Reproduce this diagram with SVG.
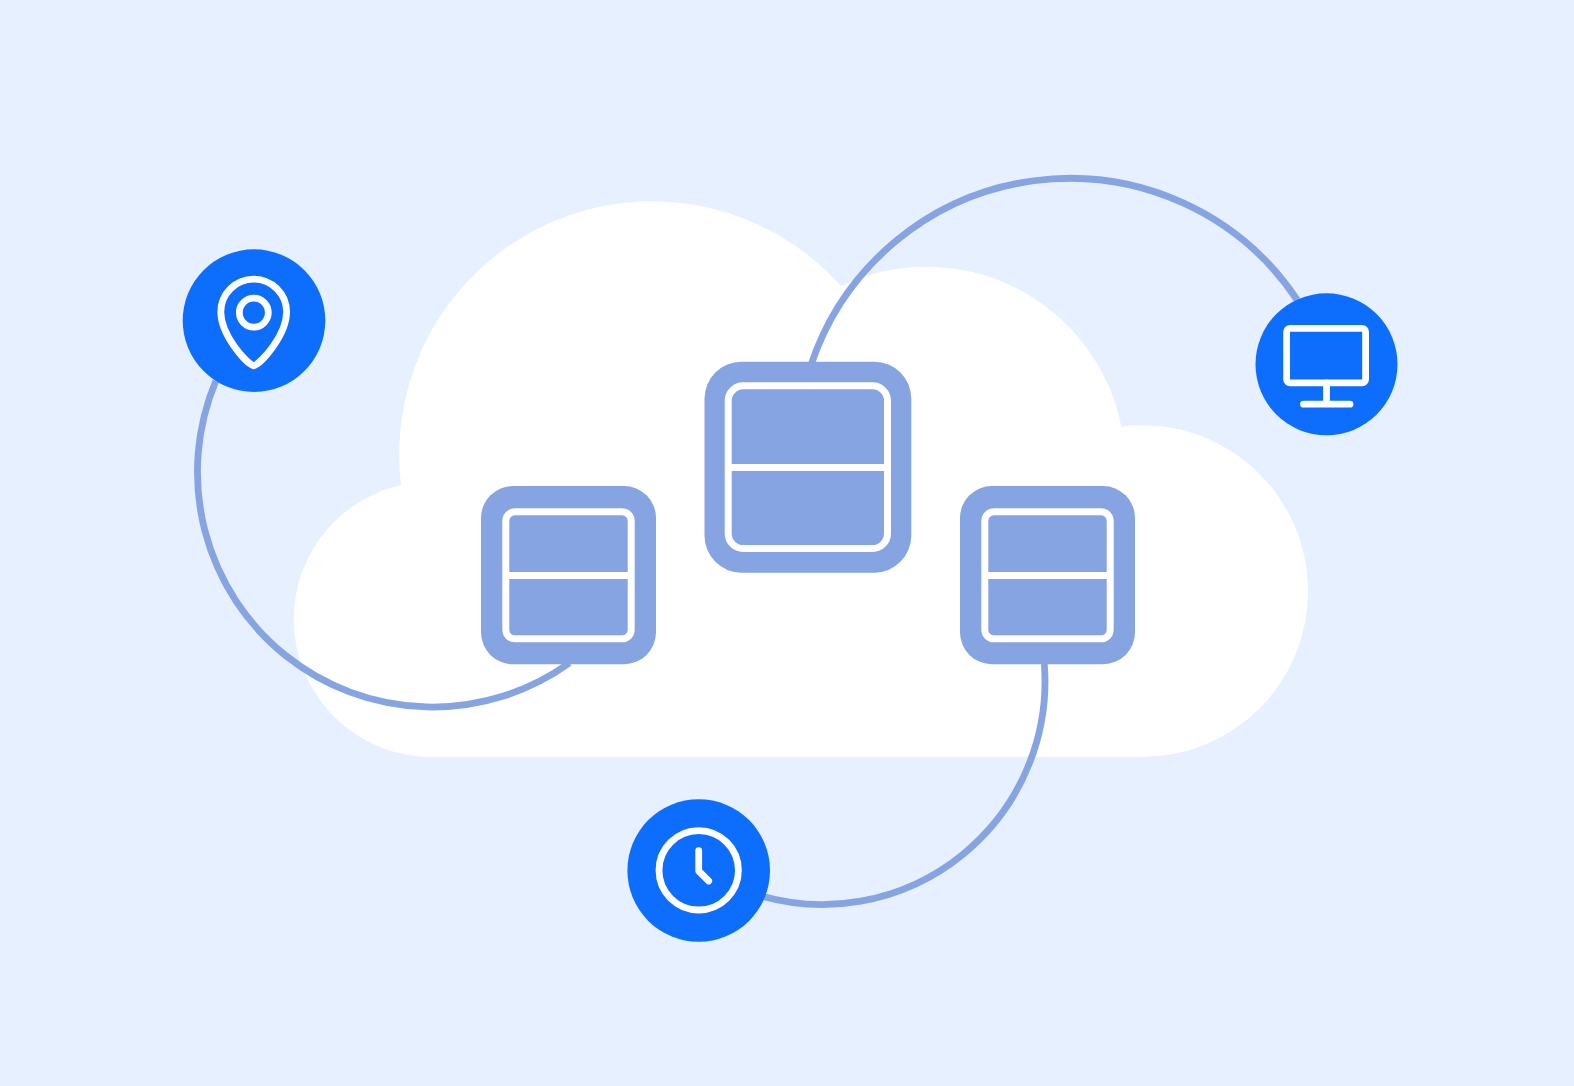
<svg xmlns="http://www.w3.org/2000/svg" width="1574" height="1086" viewBox="0 0 1574 1086">
<style>
.link{fill:none;stroke:#86A3E2;stroke-width:6.8}
.hub{fill:#0D6EFD}
.ico{fill:none;stroke:#fff;stroke-width:6.8;stroke-linecap:round;stroke-linejoin:round}
.box{fill:#86A3E2}
.inner{fill:none;stroke:#fff;stroke-width:7}
.div{fill:#fff}
</style>
<rect width="1574" height="1086" fill="#E6F0FF"/>
<path id="cloud" fill="#fff" d="M431.700 757A137.700 137.700 0 0 1 401 485A253 253 0 0 1 841 286A198.600 198.600 0 0 1 1121.300 426.600A165.700 165.700 0 0 1 1308 591.300A165.700 165.700 0 0 1 1142.300 757Z"/>
<g id="connectors">
<path class="link" d="M811 365A273 273 0 0 1 1297.200 300"/>
<path class="link" d="M215.800 381A235 235 0 0 0 569.400 663"/>
<path class="link" d="M1044.300 664A223 223 0 0 1 761 896"/>
</g>
<g id="node-left"><rect class="box" x="481" y="486" width="175" height="178.300" rx="32"/><rect class="inner" x="505.800" y="511.800" width="125.400" height="127" rx="9"/><rect class="div" x="505" y="572" width="127" height="7"/></g>
<g id="node-center"><rect class="box" x="704.500" y="361.700" width="206.800" height="211" rx="37"/><rect class="inner" x="728.200" y="385.800" width="159.300" height="162.700" rx="15"/><rect class="div" x="728" y="464" width="160" height="7"/></g>
<g id="node-right"><rect class="box" x="960" y="486" width="175" height="178.300" rx="32"/><rect class="inner" x="984.800" y="511.800" width="125.400" height="127" rx="9"/><rect class="div" x="984" y="572" width="127" height="7"/></g>
<g id="pin"><circle class="hub" cx="254" cy="320.600" r="71.300"/><path class="ico" d="M253.700 365.800C246 363 220.800 335 220.800 312A32.900 32.900 0 0 1 286.600 312C286.600 335 261.400 363 253.700 365.800Z"/><circle class="ico" cx="253.800" cy="312.600" r="14.500"/></g>
<g id="monitor"><circle class="hub" cx="1326.500" cy="364.300" r="71"/><rect class="ico" x="1286.600" y="328.400" width="79" height="54.400" rx="3.500"/><path class="ico" d="M1326.500 383V404M1303.500 404.200H1350"/></g>
<g id="clock"><circle class="hub" cx="698.700" cy="870.500" r="71.300"/><circle class="ico" cx="698.700" cy="870.300" r="39.700"/><path class="ico" d="M698.700 850.700V871L708.700 881"/></g>
</svg>
